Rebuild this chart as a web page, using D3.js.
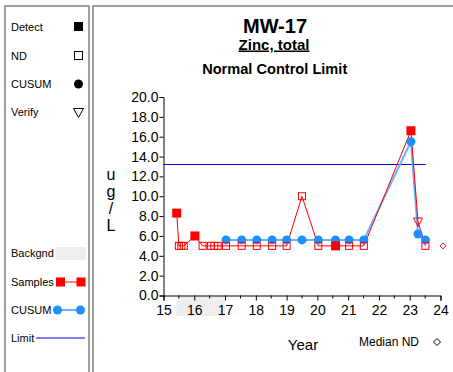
<!DOCTYPE html>
<html><head><meta charset="utf-8">
<script src="https://cdn.jsdelivr.net/npm/d3@7"></script>
<style>body{margin:0;background:#fff}svg{display:block;font-family:"Liberation Sans",Arial,sans-serif}</style>
</head><body><svg id="c" width="453" height="372"></svg>
<script>
// Data
const sampleYears  = [15.43,15.50,15.58,15.66,16.02,16.27,16.54,16.65,16.76,17.03,17.54,18.03,18.53,19.00,19.50,20.03,20.59,21.03,21.51,23.04,23.27,23.51];
const sampleValues = [8.3,5.0,5.0,5.0,6.0,5.0,5.0,5.0,5.0,5.0,5.0,5.0,5.0,5.0,10.0,5.0,5.0,5.0,5.0,16.6,7.4,5.0];
const sampleTypes  = ["D","N","N","N","D","N","N","N","N","N","N","N","N","N","N","N","D","N","N","D","V","N"];
const cusumYears   = [17.03,17.54,18.03,18.53,19.00,19.50,20.03,20.59,21.03,21.51,23.04,23.27,23.51];
const cusumValues  = [5.6,5.6,5.6,5.6,5.6,5.6,5.6,5.6,5.6,5.6,15.5,6.2,5.6];
const limitValue   = 13.2;
const limitRange   = [15, 23.52];
const backgroundRange = [15.42, 17.0];
const medianND     = {year: 24.08, value: 5.0};
const xTicks = [15,16,17,18,19,20,21,22,23,24];
const yTicks = [0,2,4,6,8,10,12,14,16,18,20];
const legendTop = ["Detect","ND","CUSUM","Verify"];
const legendBottom = ["Backgnd","Samples","CUSUM","Limit"];

const svg = d3.select("#c");
const RED = "#ff0000", BLUE = "#1e8fff", LBLUE = "#66b3ff", LIM = "#0000e6";

// panels
svg.append("rect").attr("x",5).attr("y",6).attr("width",84).attr("height",380)
  .attr("fill","none").attr("stroke","#808080").attr("stroke-width",1.5);
svg.append("rect").attr("x",93).attr("y",6).attr("width",380).attr("height",380)
  .attr("fill","none").attr("stroke","#808080").attr("stroke-width",1.5);

// legend
const lg = svg.append("g").attr("font-size",11).attr("fill","#000");
const topY = [27,56,84,112];
legendTop.forEach((t,i)=>lg.append("text").attr("x",11).attr("y",topY[i]+4).text(t));
lg.append("rect").attr("x",74).attr("y",22).attr("width",9).attr("height",9).attr("fill","#000");
lg.append("rect").attr("x",74.5).attr("y",51.5).attr("width",8).attr("height",8).attr("fill","#fff").attr("stroke","#000");
lg.append("circle").attr("cx",78.5).attr("cy",84).attr("r",4.5).attr("fill","#000");
lg.append("path").attr("d","M73.5,108.5 L83.5,108.5 L78.5,117.5 Z").attr("fill","none").attr("stroke","#000");
const botY = [253,282,310,338];
legendBottom.forEach((t,i)=>lg.append("text").attr("x",11).attr("y",botY[i]+4).text(t));
lg.append("rect").attr("x",56).attr("y",247).attr("width",30).attr("height",13).attr("fill","#eeeeee");
lg.append("line").attr("x1",60).attr("x2",81).attr("y1",282).attr("y2",282).attr("stroke",RED);
lg.append("rect").attr("x",56).attr("y",277.5).attr("width",9).attr("height",9).attr("fill",RED);
lg.append("rect").attr("x",76.5).attr("y",277.5).attr("width",9).attr("height",9).attr("fill",RED);
lg.append("line").attr("x1",57).attr("x2",81).attr("y1",310).attr("y2",310).attr("stroke",LBLUE).attr("stroke-width",2);
lg.append("circle").attr("cx",57.5).attr("cy",310).attr("r",4.5).attr("fill",BLUE);
lg.append("circle").attr("cx",80.5).attr("cy",310).attr("r",4.5).attr("fill",BLUE);
lg.append("line").attr("x1",36).attr("x2",85).attr("y1",338).attr("y2",338).attr("stroke",LIM);

// titles
svg.append("text").attr("x",275).attr("y",33).attr("text-anchor","middle").attr("font-size",20).attr("font-weight","bold").text("MW-17");
svg.append("text").attr("x",274).attr("y",49.5).attr("text-anchor","middle").attr("font-size",15).attr("font-weight","bold").attr("text-decoration","underline").text("Zinc, total");
svg.append("text").attr("x",274.7).attr("y",74).attr("text-anchor","middle").attr("font-size",14.6).attr("font-weight","bold").text("Normal Control Limit");

// scales
const x = d3.scaleLinear().domain([15,24]).range([163.5,440.5]);
const y = d3.scaleLinear().domain([0,20]).range([295.5,97]);

// background band
svg.append("rect").attr("x",x(backgroundRange[0])).attr("y",297).attr("width",x(backgroundRange[1])-x(backgroundRange[0])).attr("height",19).attr("fill","#eeeeee");

// axes
const xAxis = d3.axisBottom(x).tickValues(xTicks).tickFormat(d3.format("d")).tickSize(5);
const gx = svg.append("g").attr("transform","translate(0,295.5)").call(xAxis);
gx.selectAll(".tick text").attr("font-size",14).attr("font-family","Liberation Sans, Arial, sans-serif").attr("dy","0.85em").attr("fill","#000");
const minor = d3.range(15.5,24,1);
gx.selectAll(".minor").data(minor).enter().append("line").attr("x1",d=>x(d)).attr("x2",d=>x(d)).attr("y1",0).attr("y2",3).attr("stroke","#000");
const yAxis = d3.axisLeft(y).tickValues(yTicks).tickFormat(d3.format(".1f")).tickSize(4);
const gy = svg.append("g").attr("transform","translate(163.5,0)").call(yAxis);
gy.selectAll(".tick text").attr("font-size",14).attr("font-family","Liberation Sans, Arial, sans-serif").attr("x",-5).attr("fill","#000");
svg.selectAll(".domain").attr("stroke","#000");

// axis titles
["u","g","/","L"].forEach((c,i)=>svg.append("text").attr("x",111).attr("y",180+i*17).attr("text-anchor","middle").attr("font-size",16).text(c));
svg.append("text").attr("x",303).attr("y",350).attr("text-anchor","middle").attr("font-size",15).text("Year");
svg.append("text").attr("x",389).attr("y",346).attr("text-anchor","middle").attr("font-size",12).text("Median ND");
svg.append("path").attr("d",`M433.5,342 l3.5,-3.5 l3.5,3.5 l-3.5,3.5 Z`).attr("fill","none").attr("stroke","#000");

// limit line
svg.append("line").attr("x1",x(limitRange[0])).attr("x2",x(limitRange[1])).attr("y1",y(limitValue)).attr("y2",y(limitValue)).attr("stroke",LIM).attr("stroke-width",1.2);

// cusum line
const line = d3.line().x(d=>x(d[0])).y(d=>y(d[1]));
const cus = cusumYears.map((d,i)=>[d,cusumValues[i]]);
svg.append("path").attr("d",line(cus)).attr("fill","none").attr("stroke",LBLUE).attr("stroke-width",2);

// samples line
const sam = sampleYears.map((d,i)=>[d,sampleValues[i],sampleTypes[i]]);
svg.append("path").attr("d",line(sam)).attr("fill","none").attr("stroke",RED).attr("stroke-width",1);

// cusum points
svg.selectAll(".cp").data(cus).enter().append("circle").attr("cx",d=>x(d[0])).attr("cy",d=>y(d[1])).attr("r",4.5).attr("fill",BLUE);

// sample markers
sam.forEach(d=>{
  const cx=x(d[0]), cy=y(d[1]);
  if(d[2]==="D") svg.append("rect").attr("x",cx-4.5).attr("y",cy-4.5).attr("width",9).attr("height",9).attr("fill",RED);
  else if(d[2]==="N") svg.append("rect").attr("x",cx-3.5).attr("y",cy-3.5).attr("width",7).attr("height",7).attr("fill","none").attr("stroke",RED);
  else svg.append("path").attr("d",`M${cx-4.5},${cy-4} L${cx+4.5},${cy-4} L${cx},${cy+4.5} Z`).attr("fill","none").attr("stroke",RED);
});
// median ND
svg.append("path").attr("d",`M${x(medianND.year)},${y(medianND.value)-3} l3,3 l-3,3 l-3,-3 Z`).attr("fill","none").attr("stroke",RED);
</script></body></html>
